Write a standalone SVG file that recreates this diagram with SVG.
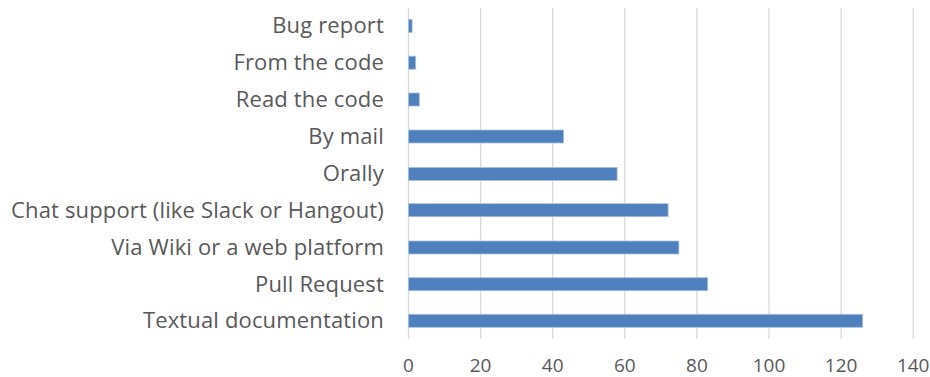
<svg xmlns="http://www.w3.org/2000/svg" width="930" height="377" viewBox="0 0 930 377">
<style>
.grid{stroke:#d9d9d9;stroke-width:1.3;fill:none}
.bar{fill:#4e80bd;stroke:#a8c0de;stroke-width:0.8}
.cat{font-family:"Open Sans","Liberation Sans",sans-serif;font-size:22px;letter-spacing:0.15px;fill:#595959;text-anchor:end}
.tick{font-family:"Open Sans","Liberation Sans",sans-serif;font-size:19px;fill:#595959;text-anchor:middle}
</style>
<rect width="930" height="377" fill="#ffffff"/>
<g id="gridlines">
<line class="grid" x1="408.5" y1="8" x2="408.5" y2="339"/>
<line class="grid" x1="480.6" y1="8" x2="480.6" y2="339"/>
<line class="grid" x1="552.7" y1="8" x2="552.7" y2="339"/>
<line class="grid" x1="624.8" y1="8" x2="624.8" y2="339"/>
<line class="grid" x1="696.9" y1="8" x2="696.9" y2="339"/>
<line class="grid" x1="769" y1="8" x2="769" y2="339"/>
<line class="grid" x1="841.1" y1="8" x2="841.1" y2="339"/>
<line class="grid" x1="913.2" y1="8" x2="913.2" y2="339"/>
</g>
<g id="axis-labels">
<text class="tick" x="408.5" y="372">0</text>
<text class="tick" x="480.6" y="372">20</text>
<text class="tick" x="552.7" y="372">40</text>
<text class="tick" x="624.8" y="372">60</text>
<text class="tick" x="696.9" y="372">80</text>
<text class="tick" x="769" y="372">100</text>
<text class="tick" x="841.1" y="372">120</text>
<text class="tick" x="913.2" y="372">140</text>
</g>
<g id="bug-report"><rect class="bar" x="408.5" y="19.4" width="3.6" height="13"/><text class="cat" x="384" y="33">Bug report</text></g>
<g id="from-the-code"><rect class="bar" x="408.5" y="56.2" width="7.2" height="13"/><text class="cat" x="384" y="70">From the code</text></g>
<g id="read-the-code"><rect class="bar" x="408.5" y="93" width="10.8" height="13"/><text class="cat" x="384" y="107">Read the code</text></g>
<g id="by-mail"><rect class="bar" x="408.5" y="130" width="155" height="13"/><text class="cat" x="384" y="144">By mail</text></g>
<g id="orally"><rect class="bar" x="408.5" y="167.5" width="208.6" height="13"/><text class="cat" x="384" y="181">Orally</text></g>
<g id="chat-support"><rect class="bar" x="408.5" y="203.7" width="259.6" height="13"/><text class="cat" x="384" y="218">Chat support (like Slack or Hangout)</text></g>
<g id="via-wiki"><rect class="bar" x="408.5" y="241" width="270.4" height="13"/><text class="cat" x="384" y="255">Via Wiki or a web platform</text></g>
<g id="pull-request"><rect class="bar" x="408.5" y="277.7" width="299.2" height="13"/><text class="cat" x="384" y="291.5">Pull Request</text></g>
<g id="textual-documentation"><rect class="bar" x="408.5" y="314.3" width="454.2" height="13"/><text class="cat" x="384" y="328.3">Textual documentation</text></g>
</svg>
